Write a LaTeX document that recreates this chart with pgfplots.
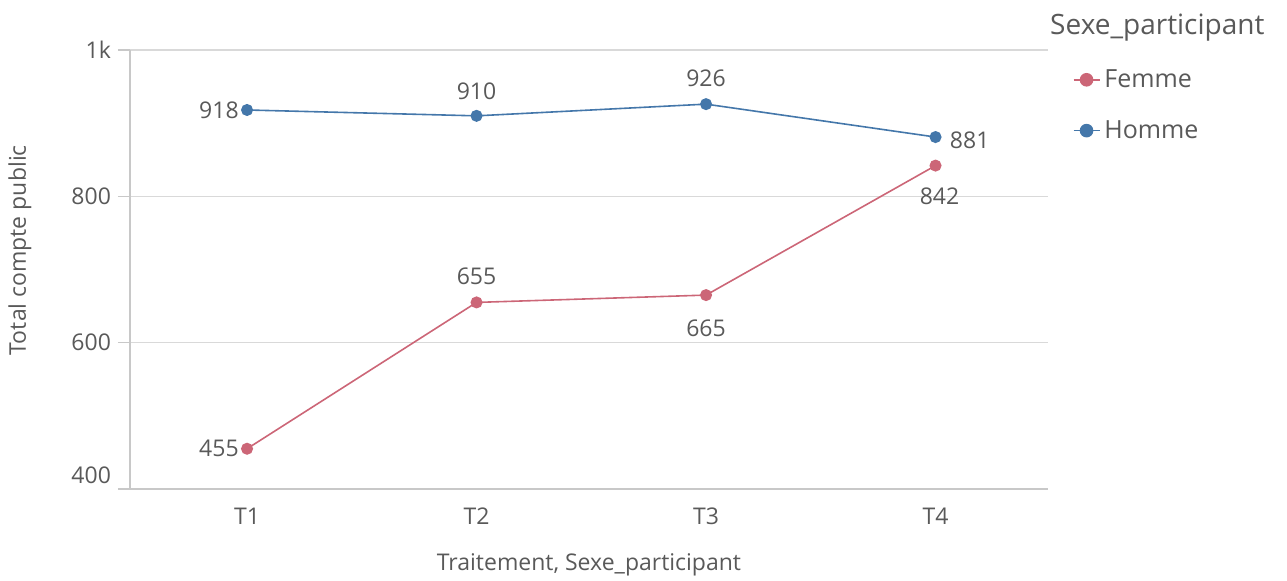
\documentclass[border=0pt]{standalone}
\usepackage{fontspec}
\setmainfont{Open Sans}
\usepackage{pgfplots}
\pgfplotsset{compat=1.18}
\definecolor{femme}{HTML}{CC6677}
\definecolor{homme}{HTML}{4477AA}
\definecolor{txt}{HTML}{595959}
\definecolor{gridc}{HTML}{D9D9D9}
\definecolor{axc}{HTML}{C8C8C8}
\begin{document}
\begin{tikzpicture}
\useasboundingbox (-65pt,-46pt) rectangle (578.5pt,244.5pt);
\begin{axis}[
  at={(0pt,0pt)}, anchor=south west,
  scale only axis, width=459pt, height=219.5pt,
  xmin=-0.51, xmax=3.49, ymin=400, ymax=1000,
  xtick={0,1,2,3}, xticklabels={T1,T2,T3,T4},
  ytick={400,600,800,1000}, yticklabels={\raisebox{14pt}{400},600,800,1k},
  axis x line*=bottom, axis y line*=left,
  axis line style={axc, line width=0.7pt, -},
  ymajorgrids, grid style={gridc, line width=0.7pt},
  tick align=outside, major tick length=6pt,
  xtick style={draw=none}, ytick style={axc, line width=0.7pt},
  tick label style={font=\fontsize{11.5}{13}\selectfont, text=txt},
  /pgf/number format/assume math mode=true,
  xlabel={Traitement, Sexe\_participant}, ylabel={Total compte public},
  label style={font=\fontsize{11.5}{13}\selectfont, text=txt},
  xlabel style={at={(axis description cs:0.5,-0.173)}, anchor=center},
  ylabel style={at={(axis description cs:-0.12,0.544)}, anchor=center},
  clip=false,
  legend style={at={(1.02,0.975)}, anchor=north west, draw=none, fill=none,
    font=\fontsize{12.5}{14}\selectfont, text=txt, row sep=11pt},
  legend cell align=left,
  legend image code/.code={\draw[mark repeat=2,mark phase=2,#1,mark size=3pt] plot coordinates {(0pt,0pt)(6.5pt,0pt)(13pt,0pt)};},
]
\addplot[femme, line width=0.8pt, mark=*, mark size=2.6pt] table {
x y
0 455
1 655
2 665
3 842
};
\addlegendentry{Femme}
\addplot[homme, line width=0.8pt, mark=*, mark size=2.6pt] table {
x y
0 918
1 910
2 926
3 881
};
\addlegendentry{Homme}
\addplot[draw=none, forget plot, nodes near coords, point meta=explicit symbolic,
  visualization depends on={value \thisrow{pos} \as \pos},
  visualization depends on={value \thisrow{dx} \as \dx},
  visualization depends on={value \thisrow{dy} \as \dy},
  every node near coord/.append style={anchor=\pos, xshift=\dx pt, yshift=\dy pt, font=\fontsize{11.5}{13}\selectfont, text=txt, inner sep=4pt}]
  table[meta=v] {
x y v pos dx dy
0 455 455 east 0 0
1 655 655 south 0 4.5
2 665 665 north 0 -8
3 842 842 north 2 -7
0 918 918 east 0 0
1 910 910 south 0 4
2 926 926 south 0 4.5
3 881 881 west 3 -1.5
};
\node[anchor=west, inner sep=0pt, font=\fontsize{14}{16}\selectfont, text=txt] at (rel axis cs:1.002,1.052) {Sexe\_participant};
\end{axis}
\end{tikzpicture}
\end{document}
